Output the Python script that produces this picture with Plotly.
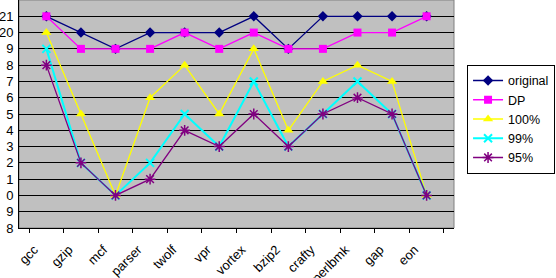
import plotly.graph_objects as go

categories = ["gcc", "gzip", "mcf", "parser", "twolf", "vpr", "vortex", "bzip2", "crafty", "perlbmk", "gap", "eon"]
original = [21, 20, 19, 20, 20, 20, 21, 19, 21, 21, 21, 21]
dp = [21, 19, 19, 19, 20, 19, 20, 19, 19, 20, 20, 21]
p100 = [20, 15, 10, 16, 18, 15, 19, 14, 17, 18, 17, 10]
p99 = [19, 12, 10, 12, 15, 13, 17, 13, 15, 17, 15, 10]
p95 = [18, 12, 10, 11, 14, 13, 15, 13, 15, 16, 15, 10]

ytick_vals = list(range(8, 23))
ytick_text = ["8", "9", "0", "1", "2", "3", "4", "5", "6", "7", "8", "9", "20", "21", "2"]

series = [
    ("original", original, "#000080", dict(symbol="diamond", size=8, color="#000080"), 1.3),
    ("DP", dp, "#FF00FF", dict(symbol="square", size=8, color="#FF00FF"), 1.3),
    ("100%", p100, "#FFFF00", dict(symbol="triangle-up", size=9, color="#FFFF00"), 1.3),
    ("99%", p99, "#00FFFF", dict(symbol="x-thin-open", size=8, color="#00FFFF", line=dict(color="#00FFFF", width=2)), 2),
    ("95%", p95, "#800080", dict(symbol="asterisk-open", size=9, color="#800080", line=dict(color="#800080", width=1.5)), 1.3),
]

fig = go.Figure()
for name, vals, col, mk, lw in series:
    fig.add_trace(go.Scatter(x=categories, y=vals, name=name, mode="lines+markers",
                             line=dict(color=col, width=lw), marker=mk, cliponaxis=False))

fig.update_layout(
    width=556, height=278,
    margin=dict(l=19, r=102, t=0, b=49.5),
    paper_bgcolor="white",
    plot_bgcolor="#C0C0C0",
    font=dict(family="Liberation Sans, Arial, sans-serif", size=12, color="black"),
    showlegend=True,
    legend=dict(x=1.03, y=1 - 65 / 228.5, xanchor="left", yanchor="top",
                bgcolor="white", bordercolor="black", borderwidth=1,
                font=dict(size=12.5), tracegroupgap=0, itemwidth=30),
    shapes=[dict(type="rect", xref="paper", yref="paper", x0=0, x1=1, y0=0, y1=1,
                 line=dict(color="#808080", width=1), layer="below")],
)
fig.update_xaxes(type="category", tickangle=-45, tickson="boundaries", ticks="outside",
                 ticklen=4, tickcolor="black", showline=True, linecolor="black", linewidth=1,
                 showgrid=False, automargin=False, tickfont=dict(size=13),
                 ticklabelstandoff=8, ticklabelshift=-12)
fig.update_yaxes(range=[8, 22], tickvals=ytick_vals, ticktext=ytick_text, showgrid=True,
                 gridcolor="black", gridwidth=1, showline=True, linecolor="black", linewidth=1,
                 zeroline=False, automargin=False, ticks="", tickfont=dict(size=13),
                 ticklabelstandoff=2)

fig.write_html("out.html")
